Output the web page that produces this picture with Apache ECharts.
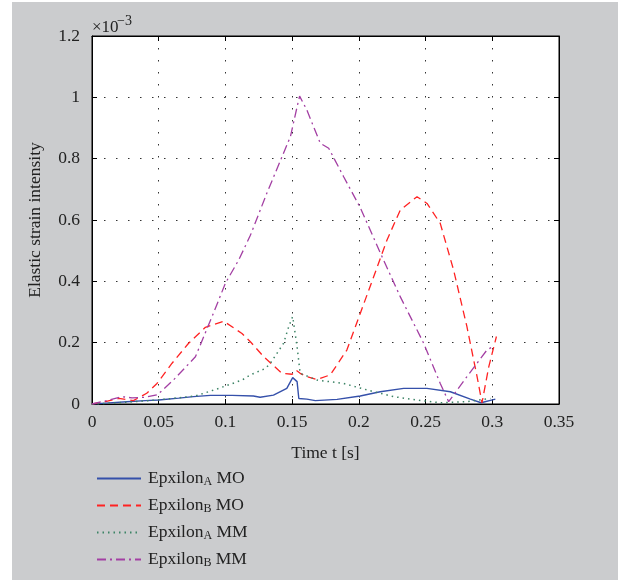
<!DOCTYPE html>
<html>
<head>
<meta charset="utf-8">
<script src="https://cdn.jsdelivr.net/npm/echarts@6/dist/echarts.min.js"></script>
<style>
html,body{margin:0;padding:0;background:#fff;}
#chart{position:absolute;left:12px;top:2px;width:606px;height:578px;}
</style>
</head>
<body>
<div id="chart"></div>
<script>
// Time ticks and strain ticks (strain values in units of 1e-3)
const xTicks = [0, 0.05, 0.1, 0.15, 0.2, 0.25, 0.3, 0.35];
const yTicks = [0, 0.2, 0.4, 0.6, 0.8, 1, 1.2];

const seriesNames = ['EpxilonA MO', 'EpxilonB MO', 'EpxilonA MM', 'EpxilonB MM'];

// Epxilon_A MO (solid blue)
const tA_MO = [0, 0.01, 0.026, 0.04, 0.05, 0.065, 0.076, 0.0887, 0.105, 0.121, 0.126, 0.136, 0.146, 0.1504, 0.1537, 0.155, 0.161, 0.1674, 0.1837, 0.201, 0.216, 0.2336, 0.251, 0.2686, 0.2836, 0.2916, 0.3023];
const vA_MO = [0, 0.003, 0.0075, 0.011, 0.013, 0.019, 0.024, 0.028, 0.028, 0.026, 0.022, 0.029, 0.051, 0.086, 0.073, 0.018, 0.016, 0.011, 0.015, 0.026, 0.04, 0.051, 0.051, 0.04, 0.016, 0.004, 0.016];

// Epxilon_B MO (dashed red)
const tB_MO = [0, 0.01, 0.02, 0.031, 0.041, 0.0487, 0.06, 0.0724, 0.085, 0.0987, 0.1124, 0.1187, 0.1287, 0.1424, 0.15, 0.153, 0.156, 0.161, 0.1687, 0.1786, 0.191, 0.2011, 0.2111, 0.2211, 0.2311, 0.2436, 0.2511, 0.261, 0.271, 0.281, 0.2886, 0.2923, 0.2973, 0.3031];
const vB_MO = [0, 0.008, 0.018, 0.011, 0.035, 0.067, 0.133, 0.198, 0.25, 0.27, 0.23, 0.203, 0.154, 0.1, 0.097, 0.11, 0.1, 0.089, 0.08, 0.095, 0.176, 0.296, 0.415, 0.535, 0.633, 0.676, 0.654, 0.589, 0.437, 0.252, 0.089, 0.004, 0.12, 0.22];

// Epxilon_A MM (dotted green)
const tA_MM = [0, 0.02, 0.04, 0.06, 0.0775, 0.095, 0.1124, 0.1187, 0.13, 0.1337, 0.1436, 0.1474, 0.1504, 0.1537, 0.156, 0.1687, 0.1886, 0.206, 0.226, 0.2436, 0.261, 0.281, 0.2986];
const vA_MM = [0, 0.004, 0.01, 0.018, 0.026, 0.051, 0.078, 0.095, 0.116, 0.133, 0.198, 0.252, 0.285, 0.187, 0.1, 0.078, 0.067, 0.046, 0.024, 0.013, 0.004, 0.0075, 0.018];

// Epxilon_B MM (dash-dot purple)
const tB_MM = [0, 0.01, 0.0225, 0.03, 0.04, 0.049, 0.061, 0.0775, 0.091, 0.1, 0.11, 0.1187, 0.131, 0.1487, 0.1537, 0.1556, 0.161, 0.1711, 0.1774, 0.1886, 0.2011, 0.2174, 0.231, 0.2486, 0.261, 0.2673, 0.281, 0.296, 0.3015];
const vB_MM = [0, 0.01, 0.024, 0.02, 0.022, 0.03, 0.078, 0.154, 0.296, 0.394, 0.47, 0.55, 0.687, 0.872, 0.969, 1.004, 0.959, 0.85, 0.834, 0.741, 0.64, 0.48, 0.35, 0.198, 0.067, 0.0075, 0.089, 0.176, 0.19];

const FONT = "'Liberation Serif', 'DejaVu Serif', serif";
const FS = 17.5;
const zip = (t, v) => t.map((x, i) => [x, v[i]]);

const chart = echarts.init(document.getElementById('chart'));

const baseX = {
  type: 'value', min: xTicks[0], max: xTicks[xTicks.length - 1], interval: 0.05,
  axisLine: { show: true, onZero: false, lineStyle: { color: '#000', width: 1 } },
  axisTick: { show: true, inside: true, length: 5, lineStyle: { color: '#000' } },
  axisLabel: { show: true, color: '#222', fontSize: FS, fontFamily: FONT, margin: 9 },
  splitLine: { show: true, lineStyle: { color: '#333', width: 1, type: [1.5, 10.5] } }
};
const baseY = {
  type: 'value', min: yTicks[0], max: yTicks[yTicks.length - 1], interval: 0.2,
  axisLine: { show: true, onZero: false, lineStyle: { color: '#000', width: 1 } },
  axisTick: { show: true, inside: true, length: 5, lineStyle: { color: '#000' } },
  axisLabel: { show: true, color: '#222', fontSize: FS, fontFamily: FONT, margin: 12 },
  splitLine: { show: true, lineStyle: { color: '#333', width: 1, type: [1.5, 10.5] } }
};

const legendRich = {
  m: { fontSize: FS, fontFamily: FONT, color: '#222', lineHeight: 20 },
  s: { fontSize: 12, fontFamily: FONT, color: '#222', padding: [7, 0, 0, 0], lineHeight: 13 }
};

chart.setOption({
  backgroundColor: '#cbccce',
  animation: false,
  grid: { left: 80, right: 59, top: 34, bottom: 176, show: true, backgroundColor: '#fff', borderColor: '#000', borderWidth: 1 },
  xAxis: [
    Object.assign({}, baseX, { position: 'bottom', name: 'Time t [s]', nameLocation: 'middle', nameGap: 40,
      nameTextStyle: { fontSize: FS, fontFamily: FONT, color: '#222' } }),
    Object.assign({}, baseX, { position: 'top', axisLabel: { show: false }, splitLine: { show: false } })
  ],
  yAxis: [
    Object.assign({}, baseY, { position: 'left', name: 'Elastic strain intensity', nameLocation: 'middle', nameGap: 48,
      nameTextStyle: { fontSize: FS, fontFamily: FONT, color: '#222' } }),
    Object.assign({}, baseY, { position: 'right', axisLabel: { show: false }, splitLine: { show: false } })
  ],
  legend: {
    orient: 'vertical', left: 79, top: 462, bottom: 0, itemWidth: 44, itemHeight: 14, itemGap: 8,
    data: seriesNames,
    itemStyle: { opacity: 0 },
    formatter: function (name) {
      const p = name.split(' ');
      const base = p[0].slice(0, -1), sub = p[0].slice(-1);
      return '{m|' + base + '}{s|' + sub + '}{m| ' + p[1] + '}';
    },
    textStyle: { rich: legendRich, padding: [0, 0, 0, 2] }
  },
  graphic: [
    { type: 'text', left: 80, top: 17, style: { text: '×10', fontSize: 17, fontFamily: FONT, fill: '#222' } },
    { type: 'text', left: 105, top: 12, style: { text: '\u22123', fontSize: 14, fontFamily: FONT, fill: '#222' } }
  ],
  series: [
    { name: seriesNames[0], type: 'line', data: zip(tA_MO, vA_MO), symbol: 'none', color: '#3550aa',
      lineStyle: { color: '#3550aa', width: 1.4, type: 'solid' } },
    { name: seriesNames[1], type: 'line', data: zip(tB_MO, vB_MO), symbol: 'none', color: '#ff2222',
      lineStyle: { color: '#ff2222', width: 1.3, type: [8, 5] } },
    { name: seriesNames[2], type: 'line', data: zip(tA_MM, vA_MM), symbol: 'none', color: '#3d8466',
      lineStyle: { color: '#3d8466', width: 1.5, type: [1.5, 4] } },
    { name: seriesNames[3], type: 'line', data: zip(tB_MM, vB_MM), symbol: 'none', color: '#a33fa3',
      lineStyle: { color: '#a33fa3', width: 1.3, type: [9, 4, 2, 4] } }
  ]
});
</script>
</body>
</html>
